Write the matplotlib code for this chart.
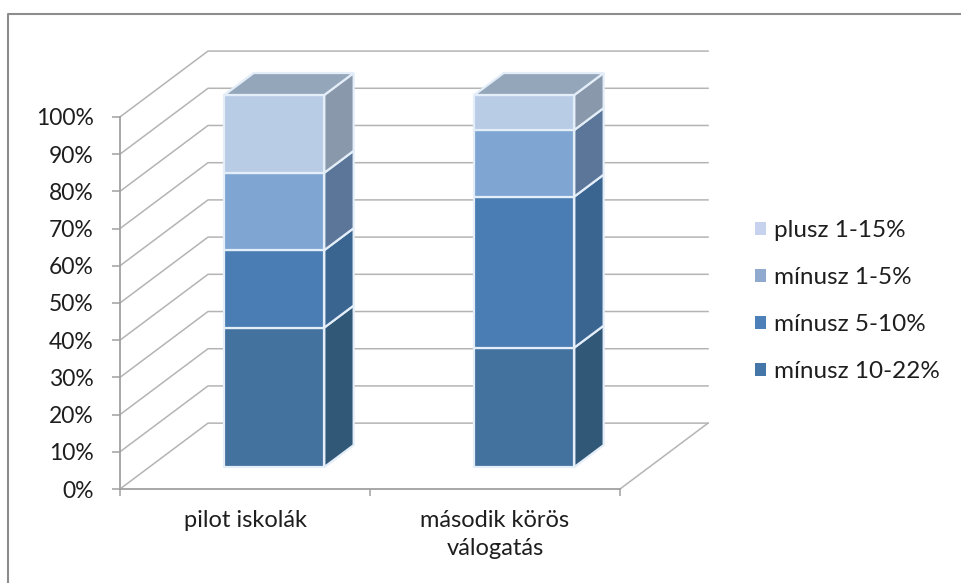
import matplotlib.pyplot as plt
from matplotlib.lines import Line2D
from matplotlib.patches import Patch, Polygon

# stacked shares per group, bottom to top
categories = ['pilot iskolák', 'második körös\nválogatás']
series_names = ['mínusz 10-22%', 'mínusz 5-10%', 'mínusz 1-5%', 'plusz 1-15%']
minus_10_22 = [37.5, 32.1]
minus_5_10 = [20.8, 40.6]
minus_1_5 = [20.8, 17.9]
plus_1_15 = [20.9, 9.4]
y_ticks = list(range(0, 101, 10))

front_colors = ['#44729f', '#4a7db3', '#7fa5d2', '#b9cce6']
side_colors = ['#325877', '#3b6591', '#5b7699', '#8a98ab']
top_color = '#94a6ba'
legend_colors = ['#4576a8', '#4d80b8', '#8fa9cf', '#c7d3ee']
edge_color = '#e3eef9'
grid_color = '#b4b4b4'
axis_color = '#a0a0a0'
text_color = '#1e1e1e'

# oblique depth of the floor / back wall: x in category units, y in percent
DX, DY = 0.352, 17.7
BAR_W = 0.4
D0, D1 = 1 / 3, 2 / 3  # the bars sit in the middle third of the depth

plt.rcParams['font.family'] = ['Lato', 'DejaVu Sans']

fig = plt.figure(figsize=(9.61, 5.83), dpi=100)
ax = fig.add_axes([120 / 961, 94 / 583, 592 / 961, 445 / 583])
ax.set_xlim(0, 2.368)
ax.set_ylim(0, 119.6)
ax.patch.set_visible(False)

# side wall diagonals + back wall gridlines
for v in y_ticks:
    ax.plot([0, DX, 2 + DX], [v, v + DY, v + DY], color=grid_color, lw=1.1, zorder=1)
ax.plot([2, 2 + DX], [0, DY], color=grid_color, lw=1.1, zorder=1)

stacks = [minus_10_22, minus_5_10, minus_1_5, plus_1_15]
ox, oy = DX * (D1 - D0), DY * (D1 - D0)
base = DY * D0
for i in range(len(categories)):
    c = i + 0.5
    x0 = c - BAR_W / 2 + DX * D0
    x1 = c + BAR_W / 2 + DX * D0
    bottom = 0
    for k, vals in enumerate(stacks):
        top = bottom + vals[i]
        ax.add_patch(Polygon([(x0, base + bottom), (x1, base + bottom),
                              (x1, base + top), (x0, base + top)],
                             fc=front_colors[k], ec=edge_color, lw=1.6, zorder=3))
        ax.add_patch(Polygon([(x1, base + bottom), (x1 + ox, base + bottom + oy),
                              (x1 + ox, base + top + oy), (x1, base + top)],
                             fc=side_colors[k], ec=edge_color, lw=1.6, zorder=3))
        bottom = top
    ax.add_patch(Polygon([(x0, base + bottom), (x1, base + bottom),
                          (x1 + ox, base + bottom + oy), (x0 + ox, base + bottom + oy)],
                         fc=top_color, ec=edge_color, lw=1.6, zorder=3))

for s in ['top', 'right']:
    ax.spines[s].set_visible(False)
ax.spines['left'].set_bounds(0, 100)
ax.spines['bottom'].set_bounds(0, 2)
for s in ['left', 'bottom']:
    ax.spines[s].set_color(axis_color)
    ax.spines[s].set_linewidth(1.3)

ax.set_yticks(y_ticks, [f'{v}%' for v in y_ticks])
ax.tick_params(axis='y', length=6, width=1.1, color=axis_color, pad=13,
               labelsize=16.5, labelcolor=text_color)
ax.set_xticks([0.5, 1.5], categories)
ax.set_xticks([0, 1, 2], minor=True)
ax.tick_params(axis='x', which='major', length=0, pad=15, labelsize=17, labelcolor=text_color)
ax.tick_params(axis='x', which='minor', length=5, width=1.1, color=axis_color)
for lbl in ax.get_xticklabels():
    lbl.set_linespacing(1.4)

handles = [Patch(fc=legend_colors[k], label=series_names[k]) for k in reversed(range(4))]
fig.legend(handles=handles, loc='center left', bbox_to_anchor=(733 / 961, 1 - 301 / 583),
           frameon=False, fontsize=17.5, labelcolor=text_color, handlelength=0.45,
           handleheight=0.45, handletextpad=0.35, labelspacing=1.07)

# chart frame (left and top edges)
fig.add_artist(Line2D([8 / 961, 8 / 961, 1], [0, 1 - 14 / 583, 1 - 14 / 583],
                      color='#8c8c8c', lw=1.5))

fig.savefig('out.png', dpi=100)
